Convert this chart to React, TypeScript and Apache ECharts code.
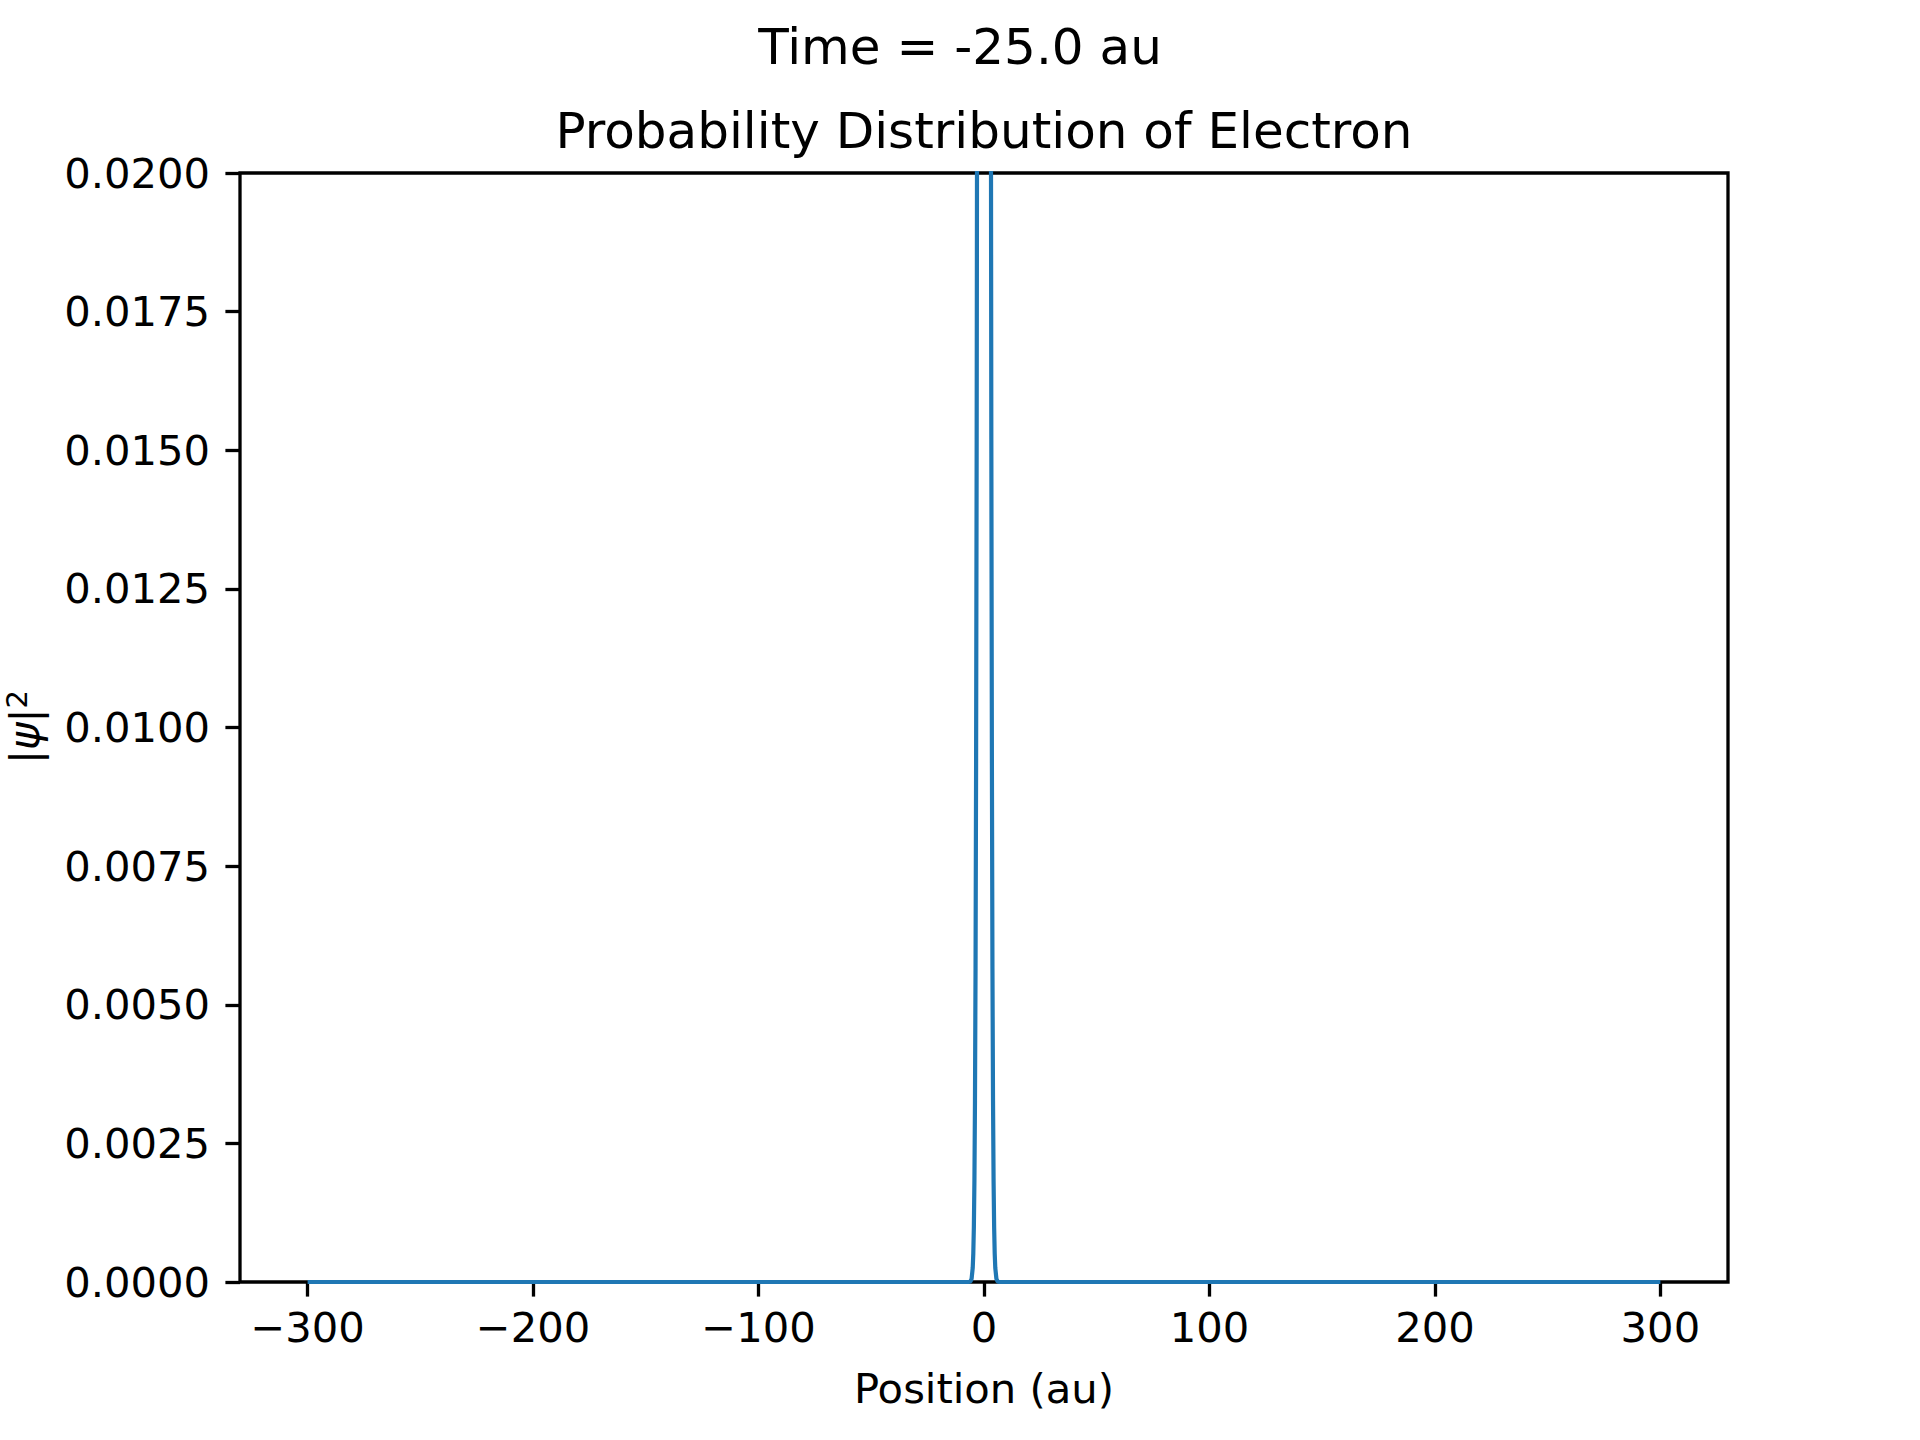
import React, { useEffect, useRef } from "react";
import * as echarts from "echarts";

const positions = [
  -300, -7, -6, -5.5, -5, -4.75, -4.5, -4.25, -4, -3.75, -3.5, -3.25, -3, -2.75, -2.5, -2, -1.5, -1, -0.5,
  0, 0.5, 1, 1.5, 2, 2.5, 2.75, 3, 3.25, 3.5, 3.75, 4, 4.25, 4.5, 4.75, 5, 5.5, 6, 7, 300,
];
const probability = [
  0, 0, 0.0000115, 0.0000583, 0.000257, 0.000512, 0.000984, 0.00182, 0.00327, 0.00565, 0.00943, 0.0152,
  0.0236, 0.0354, 0.0513, 0.0969, 0.1589, 0.2262, 0.2795, 0.3, 0.2795, 0.2262, 0.1589, 0.0969, 0.0513,
  0.0354, 0.0236, 0.0152, 0.00943, 0.00565, 0.00327, 0.00182, 0.000984, 0.000512, 0.000257, 0.0000583,
  0.0000115, 0, 0,
];
const xTicks = [-300, -200, -100, 0, 100, 200, 300];
const suptitleText = "Time = -25.0 au";
const titleText = "Probability Distribution of Electron";
const xLabelText = "Position (au)";

const FONT = "DejaVu Sans";

export default function App() {
  const ref = useRef<HTMLDivElement>(null);
  useEffect(() => {
    if (!ref.current) return;
    const chart = echarts.init(ref.current, null, { renderer: "svg" });
    const data = positions.map((x, i) => [x, probability[i]]);
    chart.setOption({
      animation: false,
      backgroundColor: "#ffffff",
      textStyle: { fontFamily: FONT },
      grid: {
        left: 240,
        right: 192,
        top: 173,
        bottom: 158,
        show: true,
        borderColor: "#000000",
        borderWidth: 3.3,
        backgroundColor: "transparent",
      },
      xAxis: {
        type: "value",
        min: -330,
        max: 330,
        axisLine: { show: false, onZero: false },
        splitLine: { show: false },
        axisTick: {
          show: true,
          length: 14.6,
          lineStyle: { color: "#000", width: 3.3 },
          customValues: xTicks,
        },
        axisLabel: {
          fontSize: 41.7,
          color: "#000",
          fontFamily: FONT,
          margin: 24,
          customValues: xTicks,
          formatter: (v: number) => (v < 0 ? "\u2212" + Math.abs(v) : String(v)),
        },
      },
      yAxis: {
        type: "value",
        min: 0,
        max: 0.02,
        interval: 0.0025,
        axisLine: { show: false, onZero: false },
        splitLine: { show: false },
        axisTick: { show: true, length: 14.6, lineStyle: { color: "#000", width: 3.3 } },
        axisLabel: {
          fontSize: 41.7,
          color: "#000",
          fontFamily: FONT,
          margin: 30,
          formatter: (v: number) => v.toFixed(4),
        },
      },
      graphic: [
        {
          type: "text",
          left: "center",
          top: 22,
          style: { text: suptitleText, fontSize: 50, fontFamily: FONT, fill: "#000" },
        },
        {
          type: "text",
          x: 984,
          y: 131,
          style: {
            text: titleText,
            fontSize: 50,
            fontFamily: FONT,
            fill: "#000",
            align: "center",
            verticalAlign: "middle",
          },
        },
        {
          type: "text",
          x: 984,
          y: 1388,
          style: {
            text: xLabelText,
            fontSize: 41.7,
            fontFamily: FONT,
            fill: "#000",
            align: "center",
            verticalAlign: "middle",
          },
        },
        {
          type: "text",
          x: 24,
          y: 727,
          rotation: Math.PI / 2,
          style: {
            text: "{b||}{i|ψ}{b||}{s|2}",
            fontFamily: FONT,
            fill: "#000",
            align: "center",
            verticalAlign: "middle",
            rich: {
              b: { fontSize: 41.7, fontFamily: FONT, fill: "#000" },
              i: { fontSize: 41.7, fontFamily: FONT, fontStyle: "italic", fill: "#000" },
              s: {
                fontSize: 29,
                fontFamily: FONT,
                fill: "#000",
                verticalAlign: "top",
                padding: [0, 0, 14, 0],
              },
            },
          },
        },
      ],
      series: [
        {
          type: "line",
          data,
          showSymbol: false,
          symbol: "none",
          clip: true,
          lineStyle: { color: "#1f77b4", width: 4.2 },
          z: 3,
        },
      ],
    });
    return () => chart.dispose();
  }, []);
  return (
    <div
      ref={ref}
      style={{ position: "absolute", left: 0, top: 0, width: 1920, height: 1440 }}
    />
  );
}
